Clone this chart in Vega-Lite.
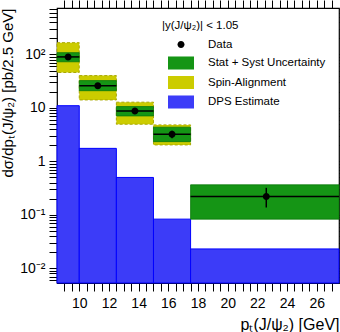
{
  "$schema": "https://vega.github.io/schema/vega-lite/v6.json",
  "width": 282,
  "height": 275,
  "autosize": {"type": "none"},
  "padding": {"left": 57, "top": 8, "right": 1, "bottom": 49},
  "config": {
    "font": "Liberation Sans",
    "view": {"stroke": "black", "strokeWidth": 1.2},
    "axis": {"grid": false, "domain": false, "tickColor": "black", "tickWidth": 1, "labelColor": "black", "titleColor": "black", "labelFont": "Liberation Sans", "titleFont": "Liberation Sans"},
    "legend": {"orient": "none", "legendX": 105, "legendY": 12, "titleFontSize": 11.5, "titleFontWeight": "normal", "titleFont": "Liberation Sans", "titleColor": "black", "titlePadding": 6, "labelFontSize": 11.5, "labelFont": "Liberation Sans", "labelColor": "black", "symbolSize": 196, "symbolStrokeWidth": 0, "symbolOffset": 12, "rowPadding": 5.5, "labelOffset": 20, "symbolOpacity": 1}
  },
  "datasets": {
    "meas": [
      {"lo": 8.5, "hi": 10, "pt": 9.25, "xs": 90, "elo": 84, "ehi": 96, "slo": 73, "shi": 108, "alo": 46, "ahi": 166},
      {"lo": 10, "hi": 12.5, "pt": 11.25, "xs": 26, "elo": 24.5, "ehi": 27.6, "slo": 21, "shi": 32.4, "alo": 14.1, "ahi": 40.2},
      {"lo": 12.5, "hi": 15, "pt": 13.75, "xs": 8.8, "elo": 8.3, "ehi": 9.3, "slo": 7.08, "shi": 10.6, "alo": 4.95, "ahi": 12.8},
      {"lo": 15, "hi": 17.5, "pt": 16.25, "xs": 3.22, "elo": 2.7, "ehi": 3.75, "slo": 2.34, "shi": 4.36, "alo": 2.03, "ahi": 4.81},
      {"lo": 17.5, "hi": 27.5, "pt": 22.6, "xs": 0.22, "elo": 0.137, "ehi": 0.32, "slo": 0.083, "shi": 0.364, "alo": null, "ahi": null}
    ],
    "dps": [
      {"lo": 8.5, "hi": 10, "xs": 11},
      {"lo": 10, "hi": 12.5, "xs": 1.75},
      {"lo": 12.5, "hi": 15, "xs": 0.5},
      {"lo": 15, "hi": 17.5, "xs": 0.083},
      {"lo": 17.5, "hi": 27.5, "xs": 0.023}
    ]
  },
  "layer": [
    {
      "data": {"name": "dps"},
      "mark": {"type": "rect", "stroke": "#0000ff", "strokeWidth": 1},
      "encoding": {
        "x": {
          "field": "lo", "type": "quantitative",
          "scale": {"domain": [8.5, 27.5], "nice": false, "zero": false},
          "axis": {
            "orient": "bottom",
            "values": [9, 9.5, 10, 10.5, 11, 11.5, 12, 12.5, 13, 13.5, 14, 14.5, 15, 15.5, 16, 16.5, 17, 17.5, 18, 18.5, 19, 19.5, 20, 20.5, 21, 21.5, 22, 22.5, 23, 23.5, 24, 24.5, 25, 25.5, 26, 26.5, 27],
            "format": ".0f",
            "labelExpr": "datum.value % 2 === 0 ? datum.label : ''",
            "tickSize": 8,
            "labelPadding": 5,
            "labelFontSize": 14,
            "labelFlush": false,
            "labelOverlap": false,
            "encode": {"ticks": {"y2": {"value": {"expr": "datum.value % 2 === 0 ? -8 : -4"}}}},
            "title": "pₜ(J/ψ₂) [GeV]",
            "titleAnchor": "end",
            "titleFontSize": 16,
            "titleFontWeight": "normal",
            "titlePadding": 6
          }
        },
        "x2": {"field": "hi"},
        "y": {
          "field": "xs", "type": "quantitative",
          "scale": {"type": "log", "domain": [0.0053, 740], "nice": false},
          "axis": {
            "orient": "left",
            "values": [0.006, 0.007, 0.008, 0.009, 0.01, 0.02, 0.03, 0.04, 0.05, 0.06, 0.07, 0.08, 0.09, 0.1, 0.2, 0.3, 0.4, 0.5, 0.6, 0.7, 0.8, 0.9, 1, 2, 3, 4, 5, 6, 7, 8, 9, 10, 20, 30, 40, 50, 60, 70, 80, 90, 100, 200, 300, 400, 500, 600, 700],
            "labelExpr": "datum.value === 100 ? '10²' : datum.value === 10 ? '10' : datum.value === 1 ? '1' : datum.value === 0.1 ? '10⁻¹' : datum.value === 0.01 ? '10⁻²' : ''",
            "tickSize": 8,
            "labelPadding": 4,
            "labelFontSize": 14,
            "labelFlush": false,
            "labelOverlap": false,
            "encode": {"ticks": {"x2": {"value": {"expr": "indexof([0.01, 0.1, 1, 10, 100], datum.value) >= 0 ? 8 : 4"}}}},
            "title": "dσ/dpₜ(J/ψ₂) [pb/2.5 GeV]",
            "titleAnchor": "end",
            "titleFontSize": 15,
            "titleFontWeight": "normal",
            "titlePadding": 4
          }
        },
        "y2": {"datum": 0.0053},
        "color": {
          "datum": "DPS Estimate", "type": "nominal",
          "scale": {
            "domain": ["Data", "Stat + Syst Uncertainty", "Spin-Alignment", "DPS Estimate"],
            "range": ["black", "#159515", "#cccc00", "#3c3cf8"]
          },
          "legend": {"title": "|y(J/ψ₂)| < 1.05"}
        }
      }
    },
    {
      "data": {"name": "meas"},
      "mark": {"type": "rect", "stroke": "#a8a800", "strokeWidth": 1, "strokeDash": [3, 2]},
      "encoding": {
        "x": {"field": "lo", "type": "quantitative", "axis": null},
        "x2": {"field": "hi"},
        "y": {"field": "alo", "type": "quantitative", "axis": null},
        "y2": {"field": "ahi"},
        "color": {"datum": "Spin-Alignment", "type": "nominal", "legend": {"title": "|y(J/ψ₂)| < 1.05"}}
      }
    },
    {
      "data": {"name": "meas"},
      "mark": {"type": "rect", "stroke": "#0b7a0b", "strokeWidth": 0.8},
      "encoding": {
        "x": {
          "field": "lo", "type": "quantitative",
          "axis": {
            "orient": "top",
            "values": [9, 9.5, 10, 10.5, 11, 11.5, 12, 12.5, 13, 13.5, 14, 14.5, 15, 15.5, 16, 16.5, 17, 17.5, 18, 18.5, 19, 19.5, 20, 20.5, 21, 21.5, 22, 22.5, 23, 23.5, 24, 24.5, 25, 25.5, 26, 26.5, 27],
            "labels": false,
            "tickSize": 8,
            "title": null,
            "encode": {"ticks": {"y2": {"value": {"expr": "datum.value % 2 === 0 ? 8 : 4"}}}}
          }
        },
        "x2": {"field": "hi"},
        "y": {
          "field": "slo", "type": "quantitative",
          "axis": {
            "orient": "right",
            "values": [0.006, 0.007, 0.008, 0.009, 0.01, 0.02, 0.03, 0.04, 0.05, 0.06, 0.07, 0.08, 0.09, 0.1, 0.2, 0.3, 0.4, 0.5, 0.6, 0.7, 0.8, 0.9, 1, 2, 3, 4, 5, 6, 7, 8, 9, 10, 20, 30, 40, 50, 60, 70, 80, 90, 100, 200, 300, 400, 500, 600, 700],
            "labels": false,
            "tickSize": 8,
            "title": null,
            "encode": {"ticks": {"x2": {"value": {"expr": "indexof([0.01, 0.1, 1, 10, 100], datum.value) >= 0 ? -8 : -4"}}}}
          }
        },
        "y2": {"field": "shi"},
        "color": {"datum": "Stat + Syst Uncertainty", "type": "nominal", "legend": {"title": "|y(J/ψ₂)| < 1.05"}}
      }
    },
    {
      "data": {"name": "meas"},
      "mark": {"type": "rule", "color": "black", "strokeWidth": 1.5},
      "encoding": {
        "x": {"field": "lo", "type": "quantitative", "axis": null},
        "x2": {"field": "hi"},
        "y": {"field": "xs", "type": "quantitative", "axis": null}
      }
    },
    {
      "data": {"name": "meas"},
      "mark": {"type": "rule", "color": "black", "strokeWidth": 1.5},
      "encoding": {
        "x": {"field": "pt", "type": "quantitative", "axis": null},
        "y": {"field": "elo", "type": "quantitative", "axis": null},
        "y2": {"field": "ehi"}
      }
    },
    {
      "data": {"name": "meas"},
      "mark": {"type": "point", "filled": true, "size": 196, "opacity": 1},
      "encoding": {
        "x": {"field": "pt", "type": "quantitative", "axis": null},
        "y": {"field": "xs", "type": "quantitative", "axis": null},
        "color": {"datum": "Data", "type": "nominal", "legend": {"title": "|y(J/ψ₂)| < 1.05"}},
        "shape": {
          "datum": "Data", "type": "nominal",
          "scale": {
            "domain": ["Data", "Stat + Syst Uncertainty", "Spin-Alignment", "DPS Estimate"],
            "range": ["M-0.5,0A0.5,0.5 0 1,0 0.5,0A0.5,0.5 0 1,0 -0.5,0Z", "M-1.86,-0.93H1.86V0.93H-1.86Z", "M-1.86,-0.93H1.86V0.93H-1.86Z", "M-1.86,-0.93H1.86V0.93H-1.86Z"]
          },
          "legend": {"title": "|y(J/ψ₂)| < 1.05"}
        }
      }
    },
    {
      "mark": {"type": "text", "text": "ATLAS", "fontStyle": "italic", "fontWeight": "bold", "fontSize": 11, "align": "left", "baseline": "middle", "color": "black", "font": "Liberation Sans"},
      "encoding": {
        "x": {"datum": 18.3, "type": "quantitative", "axis": null},
        "y": {"datum": 4.6, "type": "quantitative", "axis": null}
      }
    },
    {
      "mark": {"type": "text", "text": "√s = 8 TeV, 11.4 fb⁻¹", "fontSize": 10.5, "align": "left", "baseline": "middle", "color": "black", "font": "Liberation Sans"},
      "encoding": {
        "x": {"datum": 17.9, "type": "quantitative", "axis": null},
        "y": {"datum": 3.06, "type": "quantitative", "axis": null}
      }
    }
  ],
  "resolve": {"axis": {"x": "independent", "y": "independent"}}
}
